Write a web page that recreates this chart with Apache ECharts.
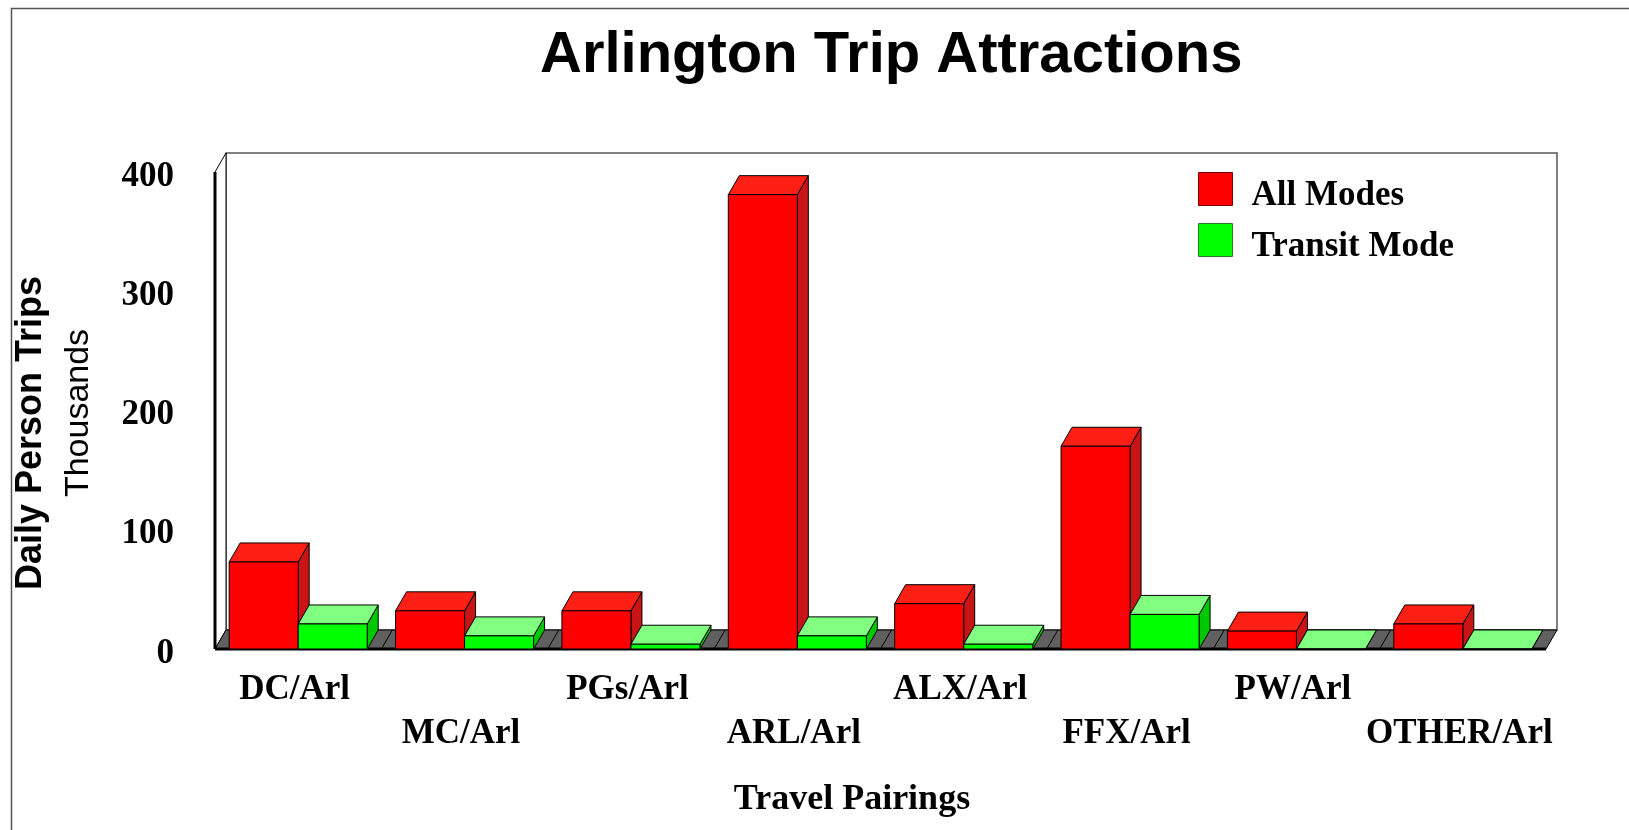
<!DOCTYPE html>
<html>
<head>
<meta charset="utf-8">
<script src="https://cdn.jsdelivr.net/npm/echarts@6/dist/echarts.min.js"></script>
<style>
html,body{margin:0;padding:0;background:#fff;}
#chart{width:1629px;height:830px;}
</style>
</head>
<body>
<div id="chart"></div>
<script>
// ---- data ----
var categories = ['DC/Arl','MC/Arl','PGs/Arl','ARL/Arl','ALX/Arl','FFX/Arl','PW/Arl','OTHER/Arl'];
var allModes = [73, 32, 32, 381, 38, 170, 15, 21];
var transitMode = [21, 11, 4, 11, 4, 29, 0, 0];
var yTicks = [0, 100, 200, 300, 400];
var seriesNames = ['All Modes', 'Transit Mode'];

// ---- styling ----
var DX = 11, DY = 19;
var PAIR_FRACTION = 138 / 166.3;
var palettes = [
  {front:'#FF0000', top:'#FF2015', side:'#C81414', border:'#7a0000'},
  {front:'#00FF00', top:'#80FF80', side:'#00C800', border:'#2a7a2a'}
];

function makeBarRenderer(k) {
  return function (params, api) {
    var idx = api.value(0);
    var v = api.value(1);
    var base = api.coord([idx, 0]);
    var topPt = api.coord([idx, v]);
    var band = api.size([1, 0])[0];
    var bw = band * PAIR_FRACTION / 2;
    var x = base[0] - bw + k * bw;
    var yb = base[1];
    var yt = topPt[1];
    var p = palettes[k];
    var stroke = {stroke:'#000', lineWidth:1};
    return {
      type: 'group',
      children: [
        {type:'polygon', shape:{points:[[x+bw,yt],[x+bw+DX,yt-DY],[x+bw+DX,yb-DY],[x+bw,yb]]},
          style:Object.assign({fill:p.side}, stroke)},
        {type:'polygon', shape:{points:[[x,yt],[x+DX,yt-DY],[x+bw+DX,yt-DY],[x+bw,yt]]},
          style:Object.assign({fill:p.top}, stroke)},
        {type:'rect', shape:{x:x, y:yt, width:bw, height:yb-yt},
          style:Object.assign({fill:p.front}, stroke)}
      ]
    };
  };
}

function renderFrame(params, api) {
  var cs = params.coordSys;
  var x = cs.x, y = cs.y, w = cs.width, h = cs.height;
  var n = categories.length;
  var band = w / n;
  var children = [
    {type:'rect', shape:{x:x+DX, y:y-DY, width:w, height:h},
      style:{fill:'#fff', stroke:'#555', lineWidth:1.5}},
    {type:'polygon', shape:{points:[[x,y],[x+DX,y-DY],[x+DX,y+h-DY],[x,y+h]]},
      style:{fill:'#fff', stroke:'#000', lineWidth:1}},
    {type:'polygon', shape:{points:[[x,y+h],[x+DX,y+h-DY],[x+w+DX,y+h-DY],[x+w,y+h]]},
      style:{fill:'#606060', stroke:'#000', lineWidth:1}}
  ];
  for (var j = 1; j < n; j++) {
    children.push({type:'line', shape:{x1:x+j*band, y1:y+h, x2:x+j*band+DX, y2:y+h-DY},
      style:{stroke:'#000', lineWidth:1}});
  }
  children.push({type:'line', shape:{x1:x, y1:y, x2:x, y2:y+h}, style:{stroke:'#000', lineWidth:3}});
  children.push({type:'line', shape:{x1:x, y1:y+h, x2:x+w, y2:y+h}, style:{stroke:'#000', lineWidth:3}});
  return {type:'group', children:children};
}

var chart = echarts.init(document.getElementById('chart'), null, {renderer:'canvas'});
var serif = '"Liberation Serif","Times New Roman",serif';
var sans = '"Liberation Sans",Arial,sans-serif';

var option = {
  backgroundColor:'#fff',
  animation:false,
  title:{
    text:'Arlington Trip Attractions',
    left:535, top:22,
    textStyle:{fontFamily:sans, fontWeight:'bold', fontSize:58, color:'#000'}
  },
  graphic:[
    {type:'rect', silent:true, z:-10, shape:{x:11.5, y:8.5, width:1700, height:900},
      style:{fill:null, stroke:'#555', lineWidth:1.5}},
    {type:'text', x:31, y:433, rotation:Math.PI/2,
      style:{text:'Daily Person Trips', fontFamily:sans, fontWeight:'bold', fontSize:36,
        fill:'#000', textAlign:'center', textVerticalAlign:'middle'}},
    {type:'text', x:79, y:413, rotation:Math.PI/2,
      style:{text:'Thousands', fontFamily:sans, fontSize:34,
        fill:'#000', textAlign:'center', textVerticalAlign:'middle'}},
    {type:'text', x:852, y:800,
      style:{text:'Travel Pairings', fontFamily:serif, fontWeight:'bold', fontSize:36,
        fill:'#000', textAlign:'center', textVerticalAlign:'middle'}}
  ],
  legend:{
    orient:'vertical',
    left:1198, top:172, padding:0,
    itemWidth:34, itemHeight:33, itemGap:10,
    icon:'rect',
    data:[
      {name:seriesNames[0], itemStyle:{color:palettes[0].front, borderColor:palettes[0].border, borderWidth:1}},
      {name:seriesNames[1], itemStyle:{color:palettes[1].front, borderColor:palettes[1].border, borderWidth:1}}
    ],
    formatter:function (name) { return '{s| }{t|' + name + '}'; },
    textStyle:{
      fontFamily:serif, fontWeight:'bold', fontSize:35, color:'#000',
      rich:{
        s:{width:14, lineHeight:48, fontSize:10},
        t:{fontFamily:serif, fontWeight:'bold', fontSize:35, color:'#000', lineHeight:40, verticalAlign:'bottom'}
      }
    }
  },
  grid:{left:215, right:83, top:172, bottom:181, containLabel:false},
  xAxis:{
    type:'category',
    data:categories,
    axisLine:{show:false},
    axisTick:{show:false},
    axisLabel:{
      interval:0, margin:19,
      fontFamily:serif, fontWeight:'bold', fontSize:35, color:'#000', lineHeight:44,
      padding:[0,7,0,0],
      formatter:function (v, i) { return i % 2 ? '\n' + v : v; }
    }
  },
  yAxis:{
    type:'value',
    min:yTicks[0], max:yTicks[yTicks.length-1], interval:100,
    axisLine:{show:false},
    axisTick:{show:false},
    splitLine:{show:false},
    axisLabel:{margin:41, verticalAlign:'top', lineHeight:9, fontFamily:serif, fontWeight:'bold', fontSize:35, color:'#000'}
  },
  series:[
    {
      type:'custom', name:'frame', z:1, silent:true,
      renderItem:renderFrame,
      data:[[0, 0]],
      encode:{x:0, y:1}
    },
    {
      type:'custom', name:seriesNames[0], z:2,
      itemStyle:{color:palettes[0].front},
      renderItem:makeBarRenderer(0),
      data:allModes.map(function (v, i) { return [i, v]; }),
      encode:{x:0, y:1}
    },
    {
      type:'custom', name:seriesNames[1], z:3,
      itemStyle:{color:palettes[1].front},
      renderItem:makeBarRenderer(1),
      data:transitMode.map(function (v, i) { return [i, v]; }),
      encode:{x:0, y:1}
    }
  ]
};
chart.setOption(option);
</script>
</body>
</html>
